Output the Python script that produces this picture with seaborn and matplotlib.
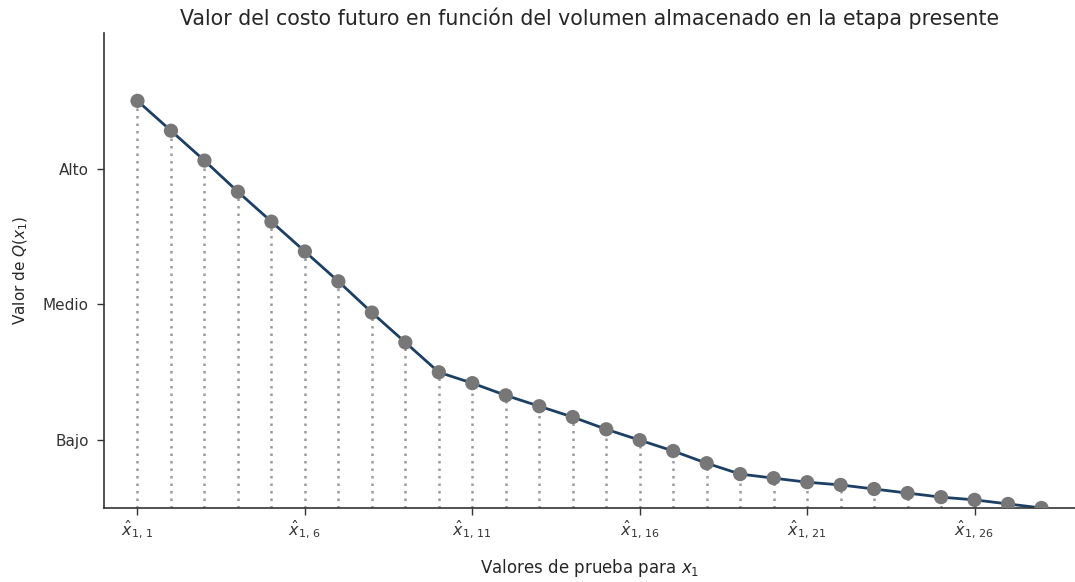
import matplotlib
matplotlib.use("Agg")
import matplotlib.pyplot as plt
import numpy as np
import pandas as pd
import seaborn as sns

# Trial points (index of x_1 candidate) and the future-cost value at each one
idx = list(range(1, 29))
q_values = [3.00, 2.78, 2.56, 2.33, 2.11, 1.89, 1.67, 1.44, 1.22, 1.00,
            0.92, 0.83, 0.75, 0.67, 0.58, 0.50, 0.42, 0.33, 0.25, 0.22,
            0.19, 0.17, 0.14, 0.11, 0.08, 0.06, 0.03, 0.00]

# Qualitative levels on the vertical axis
level_pos = [0.5, 1.5, 2.5]
level_labels = ["Bajo", "Medio", "Alto"]

# Labelled trial points along the horizontal axis
xtick_pos = [1, 6, 11, 16, 21, 26]
xtick_labels = [r"$\hat{x}_{1,\,%d}$" % k for k in xtick_pos]

df = pd.DataFrame({"x": idx, "q": q_values})

sns.set_style("ticks")
plt.rcParams["font.family"] = ["DejaVu Sans"]
plt.rcParams["axes.edgecolor"] = "#333333"
plt.rcParams["xtick.color"] = "#333333"
plt.rcParams["ytick.color"] = "#333333"
plt.rcParams["text.color"] = "#262626"
plt.rcParams["axes.labelcolor"] = "#262626"

fig = plt.figure(figsize=(10.75, 5.82), dpi=100)
ax = fig.add_axes([104 / 1075, 1 - 508 / 582, 1 - 104 / 1075, (508 - 33) / 582])

# dotted drop lines from the axis up to each point
ax.vlines(df["x"], 0, df["q"], colors="#9a9a9a", linestyles=(0, (1, 2)),
          linewidth=1.8, zorder=1)

sns.lineplot(data=df, x="x", y="q", ax=ax, color="#1c3f63", linewidth=2.0,
             zorder=2)
sns.scatterplot(data=df, x="x", y="q", ax=ax, color="#777777", s=105,
                edgecolor="none", zorder=3)

ax.set_xlim(0, 29)
ax.set_ylim(0, 3.5)
ax.set_xticks(xtick_pos)
ax.set_xticklabels(xtick_labels, fontsize=11.5)
ax.set_yticks(level_pos)
ax.set_yticklabels(level_labels, fontsize=11)
ax.tick_params(axis="y", length=5, width=1, pad=6)
ax.tick_params(axis="x", length=5, width=1, pad=3)

ax.set_xlabel(r"$\mathregular{Valores\ de\ prueba\ para}\ x_1$", fontsize=12, labelpad=11)
ax.set_ylabel(r"Valor de $Q(x_1)$", fontsize=11, labelpad=9)
ax.set_title("Valor del costo futuro en función del volumen almacenado en la etapa presente",
             fontsize=14.8, pad=6)

sns.despine(ax=ax)
for s in ("left", "bottom"):
    ax.spines[s].set_linewidth(1.2)

fig.savefig("out.png", dpi=100)
